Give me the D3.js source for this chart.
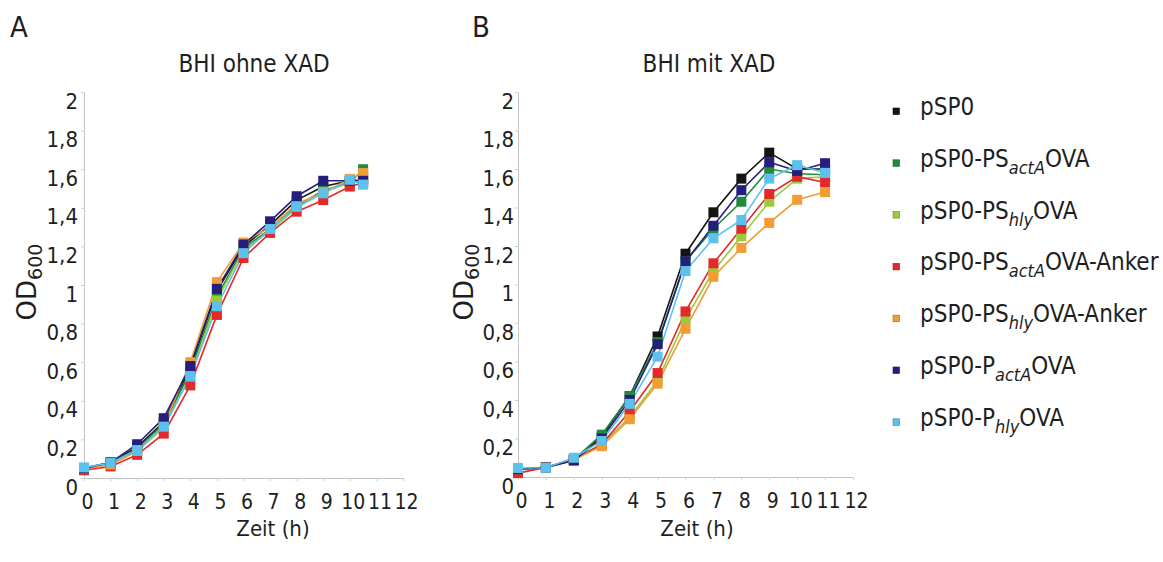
<!DOCTYPE html>
<html><head><meta charset="utf-8">
<script src="https://cdn.jsdelivr.net/npm/d3@7"></script>
<style>
body{margin:0;background:#fff;}
svg{display:block;}
text{font-family:"DejaVu Sans Condensed","DejaVu Sans",sans-serif;fill:#1e1e1e;}
</style></head><body>
<svg id="chart" width="1163" height="562"></svg>
<script>
// ---------- data ----------
const hoursA = [0, 1, 2, 3, 4, 5, 6, 7, 8, 9, 10, 10.5];
const hoursB = [0, 1, 2, 3, 4, 5, 6, 7, 8, 9, 10, 11];

const seriesNames = ["pSP0", "pSP0-PS_actA_OVA", "pSP0-PS_hly_OVA", "pSP0-PS_actA_OVA-Anker",
                     "pSP0-PS_hly_OVA-Anker", "pSP0-P_actA_OVA", "pSP0-P_hly_OVA"];
const seriesColors = ["#141414", "#228a3c", "#9ccb3a", "#e3292b", "#f29c35", "#251e7c", "#5cc1ec"];

// Panel A: BHI ohne XAD
const A_pSP0          = [0.05, 0.08, 0.16, 0.29, 0.57, 0.97, 1.20, 1.31, 1.44, 1.51, 1.54, 1.55];
const A_PSactA_OVA    = [0.05, 0.08, 0.15, 0.28, 0.55, 0.94, 1.19, 1.29, 1.41, 1.49, 1.53, 1.60];
const A_PShly_OVA     = [0.05, 0.07, 0.14, 0.26, 0.53, 0.92, 1.18, 1.28, 1.40, 1.48, 1.53, 1.56];
const A_PSactA_Anker  = [0.04, 0.06, 0.12, 0.23, 0.48, 0.845, 1.14, 1.27, 1.38, 1.44, 1.51, 1.53];
const A_PShly_Anker   = [0.05, 0.07, 0.14, 0.27, 0.60, 1.015, 1.22, 1.30, 1.42, 1.48, 1.55, 1.58];
const A_PactA_OVA     = [0.05, 0.08, 0.175, 0.31, 0.58, 0.98, 1.21, 1.33, 1.46, 1.54, 1.54, 1.54];
const A_Phly_OVA      = [0.055, 0.078, 0.145, 0.266, 0.525, 0.89, 1.165, 1.29, 1.405, 1.475, 1.545, 1.52];

// Panel B: BHI mit XAD
const B_pSP0          = [0.04, 0.05, 0.09, 0.21, 0.42, 0.73, 1.16, 1.375, 1.55, 1.685, 1.60, 1.60];
const B_PSactA_OVA    = [0.04, 0.05, 0.09, 0.22, 0.42, 0.70, 1.12, 1.29, 1.43, 1.60, 1.575, 1.57];
const B_PShly_OVA     = [0.04, 0.05, 0.09, 0.17, 0.31, 0.50, 0.82, 1.07, 1.25, 1.43, 1.55, 1.56];
const B_PSactA_Anker  = [0.02, 0.05, 0.09, 0.17, 0.34, 0.54, 0.86, 1.11, 1.29, 1.47, 1.56, 1.53];
const B_PShly_Anker   = [0.04, 0.05, 0.09, 0.16, 0.30, 0.485, 0.77, 1.04, 1.19, 1.32, 1.44, 1.48];
const B_PactA_OVA     = [0.04, 0.05, 0.085, 0.20, 0.40, 0.69, 1.12, 1.305, 1.49, 1.635, 1.59, 1.63];
const B_Phly_OVA      = [0.047, 0.048, 0.10, 0.187, 0.38, 0.625, 1.07, 1.24, 1.335, 1.55, 1.62, 1.58];

const yTickValues = [0, 0.2, 0.4, 0.6, 0.8, 1, 1.2, 1.4, 1.6, 1.8, 2];
const yTickLabels = ["0", "0,2", "0,4", "0,6", "0,8", "1", "1,2", "1,4", "1,6", "1,8", "2"];
const xTickValues = [0, 1, 2, 3, 4, 5, 6, 7, 8, 9, 10, 11, 12];
const panelTitles = ["BHI ohne XAD", "BHI mit XAD"];
const panelLetters = ["A", "B"];
const xAxisTitle = "Zeit (h)";

// ---------- drawing ----------
const svg = d3.select("#chart");
svg.append("rect").attr("width", 1163).attr("height", 562).attr("fill", "#fff");

const panels = [
  {letter: panelLetters[0], title: panelTitles[0], hours: hoursA,
   series: [A_pSP0, A_PSactA_OVA, A_PShly_OVA, A_PSactA_Anker, A_PShly_Anker, A_PactA_OVA, A_Phly_OVA],
   x0: 84, x1: 403, y0: 478, y1: 92, letterX: 10, titleX: 254, odX: 27, xlabX: 273, yLabGap: 6},
  {letter: panelLetters[1], title: panelTitles[1], hours: hoursB,
   series: [B_pSP0, B_PSactA_OVA, B_PShly_OVA, B_PSactA_Anker, B_PShly_Anker, B_PactA_OVA, B_Phly_OVA],
   x0: 518, x1: 853, y0: 477, y1: 92, letterX: 472, titleX: 709, odX: 464, xlabX: 697, yLabGap: 4}
];

panels.forEach(p => {
  const g = svg.append("g");
  const x = d3.scaleLinear().domain([0, 12]).range([p.x0, p.x1]);
  const y = d3.scaleLinear().domain([0, 2]).range([p.y0, p.y1]);

  // panel letter + title
  g.append("text").attr("x", p.letterX).attr("y", 37).attr("font-size", 29).text(p.letter);
  g.append("text").attr("x", p.titleX).attr("y", 72).attr("text-anchor", "middle")
    .attr("font-size", 24).text(p.title);

  // y axis
  const yAxis = d3.axisLeft(y).tickValues(yTickValues).tickSize(3).tickSizeOuter(0)
    .tickFormat((d, i) => yTickLabels[i]);
  const ya = g.append("g").attr("transform", `translate(${p.x0},0)`).call(yAxis);
  ya.select(".domain").attr("stroke", "#c4c4c4").attr("stroke-width", 1);
  ya.selectAll(".tick line").attr("stroke", "#d0d0d0");
  ya.selectAll(".tick text").attr("font-size", 22).attr("font-family", null)
    .attr("fill", "#1e1e1e").attr("x", -p.yLabGap).attr("dy", "0.32em")
    .attr("transform", "translate(0,9)");

  // x axis
  const xAxis = d3.axisBottom(x).tickValues(xTickValues).tickSize(3).tickSizeOuter(0);
  const xa = g.append("g").attr("transform", `translate(0,${p.y0})`).call(xAxis);
  xa.select(".domain").attr("stroke", "#c4c4c4").attr("stroke-width", 1);
  xa.selectAll(".tick line").attr("stroke", "#d0d0d0");
  xa.selectAll(".tick text").attr("font-size", 21).attr("font-family", null)
    .attr("fill", "#1e1e1e").attr("y", 0).attr("dy", "0.32em")
    .attr("transform", "translate(3,24)");

  // axis titles
  g.append("text").attr("x", p.xlabX).attr("y", 536).attr("text-anchor", "middle")
    .attr("font-size", 22).text(xAxisTitle);
  const od = g.append("text").attr("transform", `translate(${p.odX + 9},282) rotate(-90)`)
    .attr("text-anchor", "middle").style("font-family", "'DejaVu Sans',sans-serif")
    .attr("font-size", 26);
  od.append("tspan").text("OD");
  od.append("tspan").attr("font-size", 19).attr("dy", 6).text("600");

  // series
  const line = d3.line().x((d, i) => x(p.hours[i])).y(d => y(d));
  p.series.forEach((vals, si) => {
    g.append("path").datum(vals).attr("d", line).attr("fill", "none")
      .attr("stroke", seriesColors[si]).attr("stroke-width", 1.6);
  });
  p.series.forEach((vals, si) => {
    g.selectAll(null).data(vals).enter().append("rect")
      .attr("x", (d, i) => x(p.hours[i]) - 5).attr("y", d => y(d) - 5)
      .attr("width", 10).attr("height", 10).attr("fill", seriesColors[si]);
  });
});

// legend
const lg = svg.append("g");
seriesNames.forEach((name, i) => {
  const by = 115 + i * 51.8;
  lg.append("rect").attr("x", 893).attr("y", by - 7).attr("width", 6.5).attr("height", 6.5)
    .attr("fill", seriesColors[i]).attr("stroke", d3.color(seriesColors[i]).darker(1.2)).attr("stroke-width", 0.6);
  const parts = name.split("_");
  const t = lg.append("text").attr("x", 920).attr("y", by).attr("font-size", 24);
  t.append("tspan").text(parts[0]);
  if (parts.length > 1) {
    t.append("tspan").attr("font-size", 18).attr("font-style", "italic").attr("dy", 7).text(parts[1]);
    t.append("tspan").attr("dy", -7).text(parts[2]);
  }
});
</script>
</body></html>
